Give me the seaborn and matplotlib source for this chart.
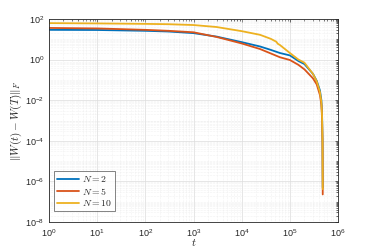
import matplotlib
matplotlib.use('Agg')
import matplotlib.pyplot as plt
import seaborn as sns
import numpy as np
import pandas as pd
from matplotlib.ticker import LogLocator, NullFormatter

# time points (t) and ||W(t) - W(T)||_F
t_vals = [1, 10, 100, 300, 1e3, 3e3, 1e4, 2.4e4, 4e4, 6.2e4, 1e5, 1.5e5,
          2e5, 3e5, 3.6e5, 4.2e5, 4.5e5, 4.65e5, 4.75e5, 4.8e5]
err_n2 = [29, 28.5, 26, 24, 20, 13.5, 7.2, 4.4, 3.0, 2.1, 1.6, 0.85,
          0.6, 0.2, 0.09, 0.03, 0.01, 2e-3, 1e-4, 5e-7]
err_n5 = [36, 34, 29, 26, 22, 13, 6.2, 3.3, 2.0, 1.3, 0.95, 0.55,
          0.33, 0.12, 0.06, 0.018, 0.006, 1.2e-3, 8e-5, 2.3e-7]
# N=10 has a small kink near t = 5.5e4
t_n10 = [1, 10, 100, 300, 1e3, 3e3, 1e4, 2.4e4, 4e4, 5.2e4, 5.6e4, 6.2e4,
         1e5, 1.5e5, 2e5, 3e5, 3.6e5, 4.2e5, 4.5e5, 4.65e5, 4.75e5, 4.8e5]
err_n10 = [62, 60, 57, 55, 50, 40, 25, 16.5, 10.5, 7.6, 6.0, 5.2,
           2.1, 1.0, 0.7, 0.2, 0.085, 0.025, 0.008, 1.6e-3, 1e-4, 4.2e-7]
series_labels = [r'$N=2$', r'$N=5$', r'$N=10$']
colors = ['#0072BD', '#D95319', '#EDB120']

df = pd.concat([
    pd.DataFrame({'t': tt, 'err': e, 'N': lab})
    for tt, e, lab in zip([t_vals, t_vals, t_n10],
                          [err_n2, err_n5, err_n10], series_labels)
], ignore_index=True)

sns.set_style('white')
plt.rcParams['font.family'] = ['Liberation Sans', 'DejaVu Sans']
plt.rcParams['mathtext.fontset'] = 'cm'
plt.rcParams['xtick.direction'] = 'in'
plt.rcParams['ytick.direction'] = 'in'

fig = plt.figure(figsize=(3.74, 2.49), dpi=100)
ax = fig.add_axes([0.131, 0.108, 0.773, 0.816])

sns.lineplot(data=df, x='t', y='err', hue='N', palette=colors, sort=False,
             estimator=None, linewidth=1.3, ax=ax)

ax.set_xscale('log')
ax.set_yscale('log')
ax.set_xlim(1, 1e6)
ax.set_ylim(1e-8, 1e2)
ax.set_xticks([10.0**k for k in range(0, 7)])
ax.set_yticks([10.0**k for k in range(-8, 3, 2)])
ax.xaxis.set_minor_locator(LogLocator(base=10, subs=np.arange(2, 10), numticks=20))
ax.yaxis.set_minor_locator(LogLocator(base=10, subs=np.arange(1, 10), numticks=30))
ax.yaxis.set_minor_formatter(NullFormatter())

ax.grid(True, which='major', color='#dcdcdc', linewidth=0.5)
ax.grid(True, which='minor', color='#e6e6e6', linewidth=0.4, linestyle=':')
ax.tick_params(which='both', top=True, right=True, colors='#262626',
               labelsize=6.5, length=2.5, width=0.5)
ax.tick_params(which='minor', length=1.5)
for s in ax.spines.values():
    s.set_color('#262626')
    s.set_linewidth(0.6)

ax.set_xlabel(r'$t$', fontsize=8, labelpad=-1)
ax.set_ylabel(r'$\|W(t)-W(T)\|_F$', fontsize=8, labelpad=1)

leg = ax.legend(loc='lower left', fontsize=7, frameon=True, fancybox=False,
                edgecolor='#262626', handlelength=2.3, borderpad=0.3,
                labelspacing=0.15, handletextpad=0.3,
                bbox_to_anchor=(0.0, 0.03))
leg.get_frame().set_linewidth(0.5)

fig.savefig('out.png', dpi=100)
